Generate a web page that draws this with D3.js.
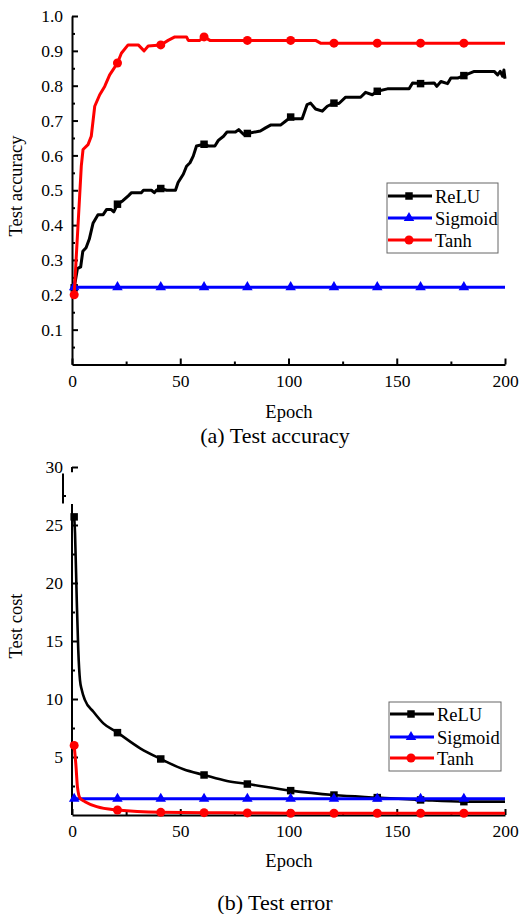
<!DOCTYPE html>
<html>
<head>
<meta charset="utf-8">
<script src="https://cdn.jsdelivr.net/npm/d3@7"></script>
<style>
  body { margin: 0; background: #fff; }
  svg { display: block; font-family: "Times New Roman", "Liberation Serif", serif; }
  svg text { font-family: "Times New Roman", "Liberation Serif", serif; }
</style>
</head>
<body>
<svg id="chart" width="519" height="914"></svg>
<script>
// ---- data ----
const seriesNames = ['ReLU', 'Sigmoid', 'Tanh'];
const epochTicks = [0, 50, 100, 150, 200];
const epochMinorTicks = [25, 75, 125, 175];
const markerEpochs = [1, 21, 41, 61, 81, 101, 121, 141, 161, 181];

const accTicks = [0.1, 0.2, 0.3, 0.4, 0.5, 0.6, 0.7, 0.8, 0.9, 1.0];
const accMinorTicks = [0.05, 0.15, 0.25, 0.35, 0.45, 0.55, 0.65, 0.75, 0.85, 0.95];
const costTicks = [5, 10, 15, 20, 25, 30];
const costMinorTicks = [2.5, 7.5, 12.5, 17.5, 22.5];

// [epoch, test accuracy]
const reluAcc = [
  [1, 0.22], [2.5, 0.275], [4, 0.28], [5, 0.325], [6.5, 0.335], [8, 0.36], [9.7, 0.405],
  [12, 0.43], [14.4, 0.43], [16, 0.445], [18, 0.445], [19.3, 0.438], [21, 0.46], [23.5, 0.47],
  [26, 0.484], [27.5, 0.493], [32, 0.493], [33, 0.5], [36.7, 0.5], [38, 0.493], [39, 0.5],
  [41, 0.505], [43.7, 0.5], [47.8, 0.5], [49, 0.522], [51.4, 0.546], [52.9, 0.569], [54.5, 0.579],
  [56, 0.598], [57.5, 0.627], [61, 0.632], [63, 0.627], [66, 0.627], [67.6, 0.643], [70, 0.655],
  [71.6, 0.667], [75.5, 0.667], [77, 0.674], [79.3, 0.66], [81, 0.663], [87, 0.67], [89.4, 0.679],
  [91.7, 0.687], [96.3, 0.687], [98.6, 0.698], [101, 0.71], [102.5, 0.705], [106.3, 0.705],
  [108.6, 0.746], [110.2, 0.75], [112.5, 0.733], [115.6, 0.727], [117.9, 0.741], [121, 0.75],
  [123.3, 0.749], [126.4, 0.767], [133.3, 0.767], [135.6, 0.781], [138.7, 0.774], [141, 0.784],
  [145.7, 0.791], [155.7, 0.791], [157.3, 0.808], [161, 0.806], [167.3, 0.808], [168.5, 0.798],
  [170.4, 0.812], [173.5, 0.806], [175, 0.822], [178.1, 0.822], [181, 0.829], [185.8, 0.841],
  [195, 0.841], [196.6, 0.831], [197.8, 0.841], [198.9, 0.827], [199.5, 0.845], [200, 0.82]
];
const sigmoidAcc = [
  [0, 0.222], [1, 0.222], [21, 0.222], [41, 0.222], [61, 0.222], [81, 0.222], [101, 0.222],
  [121, 0.222], [141, 0.222], [161, 0.222], [181, 0.222], [200, 0.222]
];
const tanhAcc = [
  [1, 0.2], [4.3, 0.57], [5.1, 0.617], [7.4, 0.631], [8.9, 0.655], [10.5, 0.741], [12.8, 0.774],
  [15.1, 0.798], [17.4, 0.831], [19, 0.846], [21, 0.865], [22.8, 0.893], [25.9, 0.917],
  [30.6, 0.917], [33.3, 0.9], [35.2, 0.914], [41, 0.917], [44.4, 0.93], [47.5, 0.94], [52.9, 0.94],
  [53.7, 0.93], [59, 0.93], [61, 0.94], [63.7, 0.93], [81, 0.93], [101, 0.93], [112.5, 0.93],
  [114.8, 0.922], [121, 0.922], [141, 0.922], [161, 0.922], [181, 0.922], [200, 0.922]
];

// [epoch, test cost]
const reluCost = [
  [1, 25.7], [1.4, 24.3], [2.2, 18.5], [2.9, 14.2], [3.7, 11.6], [4.5, 10.8], [6, 9.9],
  [9.9, 8.9], [14.5, 7.9], [21, 7.1], [31.5, 5.75], [41, 4.83], [51.5, 3.94], [61, 3.45],
  [71.6, 2.93], [81, 2.67], [101, 2.1], [121, 1.72], [141, 1.5], [161, 1.3], [181, 1.15], [200, 1.15]
];
const sigmoidCost = [
  [0, 1.4], [1, 1.4], [21, 1.4], [41, 1.4], [61, 1.4], [81, 1.4], [101, 1.4],
  [121, 1.4], [141, 1.4], [161, 1.4], [181, 1.4], [200, 1.4]
];
const tanhCost = [
  [1, 6], [1.85, 4.2], [2.5, 2.45], [3.7, 1.45], [6, 1.15], [11.4, 0.72], [21, 0.43],
  [41, 0.23], [61, 0.2], [81, 0.18], [101, 0.15], [121, 0.15], [141, 0.15], [161, 0.15],
  [181, 0.15], [200, 0.15]
];

// ---- styles ----
const styles = {
  ReLU: {color: '#000000', symbol: d3.symbolSquare, size: 56},
  Sigmoid: {color: '#0000ff', symbol: d3.symbolTriangle, size: 48},
  Tanh: {color: '#ff0000', symbol: d3.symbolCircle, size: 64}
};
const serif = '"Times New Roman", "Liberation Serif", serif';

const svg = d3.select('#chart');

function drawAxes(g, x, y, yTicks, yMinor, yFormat, keepYDomain) {
  g.append('g')
      .attr('transform', `translate(0,${y.range()[0]})`)
      .call(d3.axisBottom(x).tickValues(epochTicks).tickSizeInner(-6).tickSizeOuter(0).tickPadding(10));
  g.append('g')
      .attr('transform', `translate(0,${y.range()[0]})`)
      .call(d3.axisBottom(x).tickValues(epochMinorTicks).tickSizeInner(-3).tickSizeOuter(0).tickFormat(''))
      .select('.domain').remove();

  const yAxis = g.append('g')
      .attr('transform', `translate(${x.range()[0]},0)`)
      .call(d3.axisLeft(y).tickValues(yTicks).tickSizeInner(-6).tickSizeOuter(0).tickPadding(9).tickFormat(yFormat));
  g.append('g')
      .attr('transform', `translate(${x.range()[0]},0)`)
      .call(d3.axisLeft(y).tickValues(yMinor).tickSizeInner(-3).tickSizeOuter(0).tickFormat(''))
      .select('.domain').remove();

  if (!keepYDomain) yAxis.select('.domain').remove();

  g.selectAll('g').attr('font-family', serif);
  g.selectAll('.domain, .tick line').attr('stroke', '#000').attr('stroke-width', 2);
  g.selectAll('.tick text')
      .attr('font-size', 17.5).attr('fill', '#000')
      .style('font-family', serif);
}

function drawSeries(g, x, y, data, name, width, curve) {
  const st = styles[name];
  const line = d3.line().x(d => x(d[0])).y(d => y(d[1])).curve(curve);
  g.append('path')
      .datum(data)
      .attr('d', line)
      .attr('fill', 'none')
      .attr('stroke', st.color)
      .attr('stroke-width', width)
      .attr('stroke-linejoin', 'round');
  g.selectAll(null)
      .data(data.filter(d => markerEpochs.includes(d[0])))
      .enter().append('path')
      .attr('d', d3.symbol().type(st.symbol).size(st.size))
      .attr('transform', d => `translate(${x(d[0])},${y(d[1])})`)
      .attr('fill', st.color);
}

function drawLegend(g, left, boxTop, w, h, rows, gap) {
  g.append('rect')
      .attr('x', left).attr('y', boxTop).attr('width', w).attr('height', h)
      .attr('fill', '#fff').attr('stroke', '#666').attr('stroke-width', 1);
  seriesNames.forEach((name, i) => {
    const st = styles[name];
    const cy = rows[i];
    g.append('line')
        .attr('x1', left + 1).attr('x2', left + 45)
        .attr('y1', cy).attr('y2', cy)
        .attr('stroke', st.color).attr('stroke-width', 3);
    g.append('path')
        .attr('d', d3.symbol().type(st.symbol).size(st.size))
        .attr('transform', `translate(${left + 22},${cy})`)
        .attr('fill', st.color);
    g.append('text')
        .attr('x', left + gap).attr('y', cy + 6.5)
        .attr('font-size', 18.5)
        .text(name);
  });
}

// ---- (a) Test accuracy ----
const panelA = svg.append('g');
const xA = d3.scaleLinear().domain([0, 200]).range([72, 505]);
const yA = d3.scaleLinear().domain([0, 1]).range([364.5, 16]);

drawAxes(panelA, xA, yA, accTicks, accMinorTicks, d3.format('.1f'), true);
drawSeries(panelA, xA, yA, reluAcc, 'ReLU', 3, d3.curveLinear);
drawSeries(panelA, xA, yA, sigmoidAcc, 'Sigmoid', 3, d3.curveLinear);
drawSeries(panelA, xA, yA, tanhAcc, 'Tanh', 3, d3.curveLinear);
drawLegend(panelA, 387, 183, 111, 70, [196, 218, 240], 48);

panelA.append('text')
    .attr('transform', 'translate(22,186) rotate(-90)')
    .attr('text-anchor', 'middle').attr('font-size', 18.5)
    .text('Test accuracy');
panelA.append('text')
    .attr('x', 289).attr('y', 418)
    .attr('text-anchor', 'middle').attr('font-size', 18.5)
    .text('Epoch');
panelA.append('text')
    .attr('x', 275).attr('y', 443)
    .attr('text-anchor', 'middle').attr('font-size', 22)
    .text('(a) Test accuracy');

// ---- (b) Test error ----
const panelB = svg.append('g');
const xB = d3.scaleLinear().domain([0, 200]).range([72, 505]);
const yB = d3.scaleLinear().domain([0, 30]).range([815, 467]);

drawAxes(panelB, xB, yB, costTicks, costMinorTicks, d3.format('d'), false);

// broken y axis line
const axisSegs = [
  [72, yB(0), 72, yB(26.8)],
  [72, yB(30), 72, yB(29.55)],
  [63, yB(29.45), 63, yB(26.85)],
  [63, yB(27.5), 66, yB(27.5)]
];
panelB.selectAll(null)
    .data(axisSegs)
    .enter().append('line')
    .attr('x1', d => d[0]).attr('y1', d => d[1])
    .attr('x2', d => d[2]).attr('y2', d => d[3])
    .attr('stroke', '#000').attr('stroke-width', 2);

drawSeries(panelB, xB, yB, reluCost, 'ReLU', 2.6, d3.curveMonotoneX);
drawSeries(panelB, xB, yB, sigmoidCost, 'Sigmoid', 3, d3.curveLinear);
drawSeries(panelB, xB, yB, tanhCost, 'Tanh', 3, d3.curveMonotoneX);
drawLegend(panelB, 389, 702, 112, 69, [714, 737, 758], 48);

panelB.append('text')
    .attr('transform', 'translate(22,626) rotate(-90)')
    .attr('text-anchor', 'middle').attr('font-size', 18.5)
    .text('Test cost');
panelB.append('text')
    .attr('x', 289).attr('y', 867)
    .attr('text-anchor', 'middle').attr('font-size', 18.5)
    .text('Epoch');
panelB.append('text')
    .attr('x', 275).attr('y', 910)
    .attr('text-anchor', 'middle').attr('font-size', 22)
    .text('(b) Test error');
</script>
</body>
</html>
